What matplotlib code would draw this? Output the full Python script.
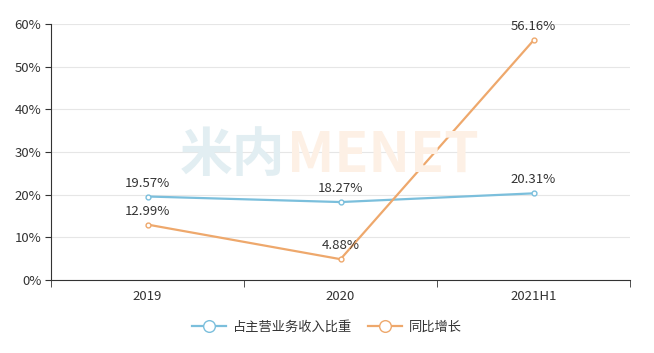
import matplotlib.pyplot as plt
from matplotlib.ticker import FuncFormatter

plt.rcParams['font.family'] = ['Noto Sans CJK SC', 'DejaVu Sans']

categories = ["2019", "2020", "2021H1"]
share = [19.57, 18.27, 20.31]
growth = [12.99, 4.88, 56.16]
series_names = ["占主营业务收入比重", "同比增长"]

blue = "#7bbfdc"
orange = "#eea86c"
text_color = "#333333"

fig = plt.figure(figsize=(6.54, 3.53), dpi=100)
ax = fig.add_axes([51 / 654, 1 - 280 / 353, 579 / 654, 256 / 353])

x = list(range(len(categories)))

# watermark
fig.text(0.355, 0.56, "米内", fontsize=38, color="#e2eef2", fontweight="bold",
         ha="center", va="center", zorder=0)
fig.text(0.585, 0.56, "MENET", fontsize=40, color="#fdf0e5", fontweight="bold",
         ha="center", va="center", zorder=0)

ax.plot(x, share, color=blue, lw=1.6, marker="o", ms=3.5, mfc="white",
        mec=blue, mew=1, label=series_names[0], zorder=3)
ax.plot(x, growth, color=orange, lw=1.6, marker="o", ms=3.5, mfc="white",
        mec=orange, mew=1, label=series_names[1], zorder=3)

for xi, v in zip(x, share):
    ax.annotate(f"{v:.2f}%", (xi, v), xytext=(0, 5), textcoords="offset points",
                ha="center", va="bottom", fontsize=9.5, color=text_color)
for xi, v in zip(x, growth):
    ax.annotate(f"{v:.2f}%", (xi, v), xytext=(0, 5), textcoords="offset points",
                ha="center", va="bottom", fontsize=9.5, color=text_color)

ax.set_xlim(-0.5, 2.5)
ax.set_ylim(0, 60)
ax.set_yticks(range(0, 61, 10))
ax.yaxis.set_major_formatter(FuncFormatter(lambda v, p: f"{v:.0f}%"))
ax.set_xticks(x)
ax.set_xticklabels(categories)
ax.set_xticks([-0.5, 0.5, 1.5, 2.5], minor=True)
ax.tick_params(axis="x", which="major", length=0, pad=7, labelsize=9.5, colors=text_color)
ax.tick_params(axis="x", which="minor", length=5, color=text_color)
ax.tick_params(axis="y", length=4, labelsize=9.5, colors=text_color, pad=3)

ax.grid(axis="y", color="#e6e6e6", lw=0.8)
ax.set_axisbelow(True)
for s in ["top", "right"]:
    ax.spines[s].set_visible(False)
ax.spines["left"].set_color(text_color)
ax.spines["bottom"].set_color(text_color)

fig.legend(loc="center", bbox_to_anchor=(0.5, 1 - 327 / 353), ncol=2, frameon=False,
           fontsize=9.5, handlelength=2.6, columnspacing=1.2, handletextpad=0.5,
           labelcolor=text_color, markerscale=2.4)

fig.savefig("out.png", dpi=100)
